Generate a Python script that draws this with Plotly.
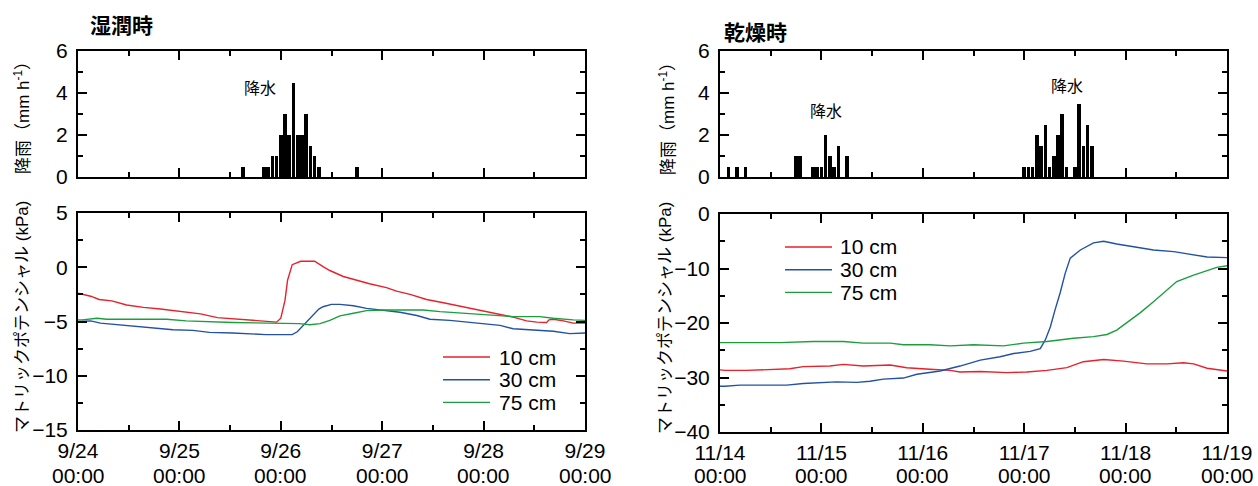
import plotly.graph_objects as go
from datetime import datetime, timedelta

# ---------------- data ----------------
wet_start = datetime(2000, 9, 24)
dry_start = datetime(2000, 11, 14)
n_days = 5

wet_ticklabels = ["9/24", "9/25", "9/26", "9/27", "9/28", "9/29"]
dry_ticklabels = ["11/14", "11/15", "11/16", "11/17", "11/18", "11/19"]
time_label = "00:00"

series_names = ["10 cm", "30 cm", "75 cm"]
series_colors = ["#e8212b", "#2252a3", "#1c9e3f"]

# hourly rainfall (mm h-1); hours from period start
wet_rain_hours = [39, 44, 45, 46, 47, 48, 49, 50, 51, 52, 53, 54, 55, 56, 57, 66]
wet_rain_mm = [0.5, 0.5, 0.5, 1, 1, 2, 3, 2, 4.5, 2, 2, 3, 1.5, 1, 0.5, 0.5]

dry_rain_hours = [2, 4, 6, 18, 19, 22, 23, 24, 25, 26, 27, 28, 30,
                  72, 73, 74, 75, 76, 77, 78, 79, 80, 81, 82, 84, 85, 86, 87, 88]
dry_rain_mm = [0.5, 0.5, 0.5, 1, 1, 0.5, 0.5, 0.5, 2, 1, 0.5, 1.5, 1,
               0.5, 0.5, 0.5, 2, 1.5, 2.5, 0.5, 1, 2, 3, 0.5, 0.5, 3.5, 1.5, 2.5, 1.5]

# matric potential (kPa), wet period
wet_10_hours = [0, 1, 3, 5, 8, 11.5, 15.5, 19.5, 24, 29, 33, 36.5, 40.5, 44.5, 47, 48, 49,
                49.6, 50.7, 52.7, 56, 58, 59.6, 62.8, 66, 69, 73, 75.4, 78.6, 82.5, 86.5,
                90.4, 93.6, 96.7, 100, 103, 106.2, 108.6, 110.9, 111.5, 112.5, 114.9, 117.2, 120]
wet_10_kpa = [-2.4, -2.5, -2.67, -2.97, -3.1, -3.48, -3.7, -3.85, -4.09, -4.3, -4.64, -4.76,
              -4.9, -5.0, -5.06, -4.7, -3.03, -1.2, 0.24, 0.55, 0.55, 0.06, -0.3, -0.85,
              -1.21, -1.52, -1.88, -2.2, -2.5, -2.97, -3.27, -3.58, -3.79, -4.06, -4.3,
              -4.6, -4.94, -5.06, -5.09, -4.85, -4.8, -4.94, -5.15, -5.15]

wet_30_hours = [0, 1, 3, 5.3, 9.2, 13.1, 17, 22.5, 27.2, 31.1, 36.6, 40.5, 44.5, 49.2, 50.7,
                51.9, 53.9, 55.5, 57, 58, 60, 62, 65.2, 68.3, 72.3, 76.2, 80.2, 83.3, 88,
                92, 95.9, 99.9, 103, 107.8, 112.5, 116.4, 120]
wet_30_kpa = [-5.0, -5.0, -4.94, -5.15, -5.3, -5.45, -5.55, -5.76, -5.82, -6.0, -6.06, -6.12,
              -6.21, -6.21, -6.21, -5.95, -5.15, -4.5, -3.85, -3.64, -3.42, -3.42, -3.55,
              -3.79, -4.0, -4.15, -4.45, -4.79, -4.9, -5.06, -5.2, -5.36, -5.67, -5.82,
              -5.9, -6.12, -6.06]

wet_75_hours = [0, 1, 4.5, 6.8, 21, 25.6, 36.6, 44.5, 52.3, 54.9, 57.3, 59.6, 62, 65.2, 68.3,
                72.3, 76.2, 81.7, 85.7, 92, 98.3, 103, 109.3, 112.5, 117.2, 120]
wet_75_kpa = [-4.85, -4.85, -4.7, -4.79, -4.79, -4.94, -5.09, -5.15, -5.2, -5.3, -5.2, -4.9,
              -4.48, -4.24, -4.0, -3.94, -3.94, -3.94, -4.09, -4.24, -4.39, -4.55, -4.55,
              -4.7, -4.85, -4.9]

# matric potential (kPa), dry period
dry_10_hours = [0, 1.2, 6.3, 11.8, 16.5, 19.7, 26, 29.2, 33.9, 40.3, 44.2, 49.7, 54.5, 56.8,
                61.6, 67.9, 72.6, 77.4, 82.1, 86, 90.8, 95.5, 101, 105.8, 109.7, 112.1, 115.3, 120]
dry_10_kpa = [-28.6, -28.7, -28.7, -28.5, -28.4, -28.0, -27.9, -27.6, -27.9, -27.7, -28.2,
              -28.5, -28.7, -29.0, -28.9, -29.1, -29.0, -28.7, -28.2, -27.1, -26.7, -27.0,
              -27.5, -27.5, -27.3, -27.5, -28.3, -28.8]

dry_30_hours = [0, 1.2, 4.7, 10.3, 15.8, 19.7, 22.9, 27.6, 32.4, 35.5, 38.7, 43.4, 46.6, 49.7,
                52.1, 56.8, 61.6, 66.3, 69.5, 73.4, 75.8, 77, 78.2, 79.3, 80.5, 81.7, 82.9,
                85.3, 88.4, 90.8, 93.9, 97.9, 102.6, 107.4, 112.1, 115.3, 120]
dry_30_kpa = [-31.6, -31.6, -31.4, -31.4, -31.4, -31.1, -31.0, -30.8, -30.9, -30.7, -30.3,
              -30.1, -29.4, -29.0, -28.8, -27.9, -26.8, -26.2, -25.6, -25.2, -24.7, -23.1,
              -20.7, -17.6, -14.5, -10.9, -8.1, -6.6, -5.3, -5.0, -5.5, -6.0, -6.6, -6.9,
              -7.5, -7.9, -8.0]

dry_75_hours = [0, 1.2, 6.3, 14.2, 22.1, 29.2, 33.9, 40.3, 43.4, 49.7, 54.5, 60, 67.1, 71.8,
                77.4, 83.7, 88.4, 91.6, 93.9, 96.3, 99.5, 102.6, 105.8, 108.1, 112.1, 115.3,
                117.6, 120]
dry_75_kpa = [-23.6, -23.6, -23.7, -23.6, -23.4, -23.4, -23.7, -23.7, -24.0, -24.0, -24.2,
              -24.0, -24.2, -23.7, -23.4, -22.8, -22.5, -22.1, -21.3, -19.9, -18.1, -16.1,
              -13.9, -12.4, -11.2, -10.4, -9.8, -9.5]

# annotations "降水" (hours from start, mm)
wet_rain_note = [(43.1, 4.3)]
dry_rain_note = [(25.0, 3.2), (82.1, 4.4)]

# ---------------- layout helpers ----------------
W, H = 1258, 486
FONT_NUM = "Liberation Sans, Arial, Noto Sans CJK JP"
FONT_JP = "Noto Sans CJK JP, Liberation Sans"


def px(xp):
    return xp / W


def py(yp):
    return 1 - yp / H


def times(start, hours):
    return [start + timedelta(hours=h) for h in hours]


def x_axis(domain, anchor, start, labels, show):
    majors = [start + timedelta(days=d) for d in range(n_days + 1)]
    minors = [start + timedelta(days=d, hours=12) for d in range(n_days)]
    ax = dict(
        domain=domain, anchor=anchor, type="date", automargin=False,
        range=[start, start + timedelta(days=n_days)],
        tickmode="array", tickvals=majors,
        showticklabels=show,
        ticks="inside", ticklen=9, tickwidth=1.5, tickcolor="black",
        minor=dict(tickmode="array", tickvals=minors, ticks="inside", ticklen=5,
                   tickwidth=1.5, tickcolor="black", showgrid=False),
        showline=True, linewidth=2, linecolor="black", mirror="allticks",
        showgrid=False, zeroline=False,
        tickfont=dict(family=FONT_NUM, size=21, color="black"),
        ticklabelstandoff=1,
    )
    if show:
        ax["ticktext"] = labels
    return ax


def y_axis(domain, anchor, rng, dtick, minor_dtick):
    return dict(
        domain=domain, anchor=anchor, range=rng, automargin=False,
        tickmode="linear", tick0=rng[0], dtick=dtick,
        ticks="inside", ticklen=9, tickwidth=1.5, tickcolor="black",
        minor=dict(tickmode="linear", tick0=rng[0], dtick=minor_dtick, ticks="inside",
                   ticklen=5, tickwidth=1.5, tickcolor="black", showgrid=False),
        showline=True, linewidth=2, linecolor="black", mirror="allticks",
        showgrid=False, zeroline=False,
        tickfont=dict(family=FONT_NUM, size=21, color="black"),
        ticklabelstandoff=4,
    )


fig = go.Figure()

# rainfall bars
bar_w = 3600000 * 0.85
fig.add_trace(go.Bar(x=times(wet_start, wet_rain_hours), y=wet_rain_mm, width=bar_w,
                     marker=dict(color="black", line=dict(width=0)),
                     xaxis="x", yaxis="y", showlegend=False))
fig.add_trace(go.Bar(x=times(dry_start, dry_rain_hours), y=dry_rain_mm, width=bar_w,
                     marker=dict(color="black", line=dict(width=0)),
                     xaxis="x3", yaxis="y3", showlegend=False))

# matric potential lines
wet_series = [(wet_10_hours, wet_10_kpa), (wet_30_hours, wet_30_kpa), (wet_75_hours, wet_75_kpa)]
dry_series = [(dry_10_hours, dry_10_kpa), (dry_30_hours, dry_30_kpa), (dry_75_hours, dry_75_kpa)]
for (hrs, vals), name, col in zip(wet_series, series_names, series_colors):
    fig.add_trace(go.Scatter(x=times(wet_start, hrs), y=vals, mode="lines", name=name,
                             line=dict(color=col, width=1.4), xaxis="x2", yaxis="y2",
                             showlegend=False))
for (hrs, vals), name, col in zip(dry_series, series_names, series_colors):
    fig.add_trace(go.Scatter(x=times(dry_start, hrs), y=vals, mode="lines", name=name,
                             line=dict(color=col, width=1.4), xaxis="x4", yaxis="y4",
                             showlegend=False))

left_dom = [px(78), px(585)]
right_dom = [px(720), px(1227)]
top_dom = [py(177), py(51)]
bot_dom_l = [py(430), py(213)]
bot_dom_r = [py(432), py(214)]

fig.update_layout(
    width=W, height=H,
    margin=dict(l=0, r=0, t=0, b=0, autoexpand=False),
    paper_bgcolor="white", plot_bgcolor="white",
    bargap=0,
    xaxis=x_axis(left_dom, "y", wet_start, wet_ticklabels, False),
    yaxis=y_axis(top_dom, "x", [0, 6], 2, 1),
    xaxis2=x_axis(left_dom, "y2", wet_start, wet_ticklabels, True),
    yaxis2=y_axis(bot_dom_l, "x2", [-15, 5], 5, 2.5),
    xaxis3=x_axis(right_dom, "y3", dry_start, dry_ticklabels, False),
    yaxis3=y_axis(top_dom, "x3", [0, 6], 2, 1),
    xaxis4=x_axis(right_dom, "y4", dry_start, dry_ticklabels, True),
    yaxis4=y_axis(bot_dom_r, "x4", [-40, 0], 10, 5),
    showlegend=False,
)

annotations = []
shapes = []

# second line of the x tick labels
for start, xref in [(wet_start, "x2"), (dry_start, "x4")]:
    for d in range(n_days + 1):
        annotations.append(dict(x=start + timedelta(days=d), xref=xref, y=py(475), yref="paper",
                                text=time_label, showarrow=False, xanchor="center",
                                yanchor="middle",
                                font=dict(family=FONT_NUM, size=21, color="black")))

# panel titles
annotations.append(dict(x=px(121), y=py(24), xref="paper", yref="paper", text="<b>湿潤時</b>",
                        showarrow=False, xanchor="center", yanchor="middle",
                        font=dict(family=FONT_JP, size=21, color="black")))
annotations.append(dict(x=px(755), y=py(31), xref="paper", yref="paper", text="<b>乾燥時</b>",
                        showarrow=False, xanchor="center", yanchor="middle",
                        font=dict(family=FONT_JP, size=21, color="black")))

# y-axis titles
rain_title = "降雨（mm h<sup>-1</sup>）"
pot_title = "マトリックポテンシャル (kPa)"
for xp, yp, txt in [(22, 114, rain_title), (667, 114, rain_title),
                    (22, 317, pot_title), (665, 318, pot_title)]:
    annotations.append(dict(x=px(xp), y=py(yp), xref="paper", yref="paper", text=txt,
                            textangle=-90, showarrow=False, xanchor="center",
                            yanchor="middle",
                            font=dict(family=FONT_NUM, size=17, color="black")))

# rain notes
for h, v in wet_rain_note:
    annotations.append(dict(x=wet_start + timedelta(hours=h), y=v, xref="x", yref="y",
                            text="降水", showarrow=False,
                            font=dict(family=FONT_JP, size=16, color="black")))
for h, v in dry_rain_note:
    annotations.append(dict(x=dry_start + timedelta(hours=h), y=v, xref="x3", yref="y3",
                            text="降水", showarrow=False,
                            font=dict(family=FONT_JP, size=16, color="black")))

# legends (drawn in the plot area)
for (lx0, lx1, tx, ly0), in [((443, 490, 497, 357),), ((785, 832, 838, 247),)]:
    for i, (name, col) in enumerate(zip(series_names, series_colors)):
        yy = ly0 + i * 22.7
        shapes.append(dict(type="line", xref="paper", yref="paper", x0=px(lx0), x1=px(lx1),
                           y0=py(yy), y1=py(yy), line=dict(color=col, width=1.4)))
        annotations.append(dict(x=px(tx), y=py(yy), xref="paper", yref="paper", text=name,
                                showarrow=False, xanchor="left", yanchor="middle",
                                font=dict(family=FONT_NUM, size=21, color="black")))

fig.update_layout(annotations=annotations, shapes=shapes)
fig.write_html("out.html",
               config={"displayModeBar": False},
               post_script="document.body.style.margin='0';document.body.style.overflow='hidden';")
